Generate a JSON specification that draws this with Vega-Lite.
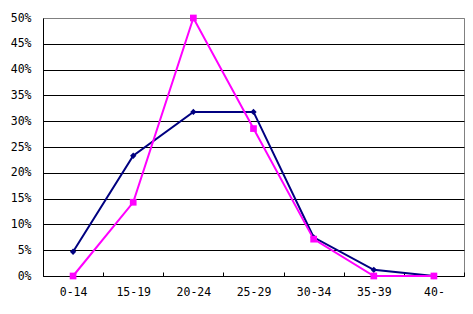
{
  "$schema": "https://vega.github.io/schema/vega-lite/v6.json",
  "width": 421,
  "height": 258,
  "autosize": {"type": "none"},
  "padding": {"left": 43, "top": 18, "right": 9, "bottom": 38},
  "background": "white",
  "config": {
    "view": {"stroke": "#808080", "strokeWidth": 1},
    "font": "DejaVu Sans Mono"
  },
  "data": {
    "values": [
      {"age": "0-14", "series": "A", "value": 0.047},
      {"age": "15-19", "series": "A", "value": 0.233},
      {"age": "20-24", "series": "A", "value": 0.318},
      {"age": "25-29", "series": "A", "value": 0.318},
      {"age": "30-34", "series": "A", "value": 0.075},
      {"age": "35-39", "series": "A", "value": 0.012},
      {"age": "40-", "series": "A", "value": 0.0},
      {"age": "0-14", "series": "B", "value": 0.0},
      {"age": "15-19", "series": "B", "value": 0.1429},
      {"age": "20-24", "series": "B", "value": 0.5},
      {"age": "25-29", "series": "B", "value": 0.2857},
      {"age": "30-34", "series": "B", "value": 0.0714},
      {"age": "35-39", "series": "B", "value": 0.0},
      {"age": "40-", "series": "B", "value": 0.0}
    ]
  },
  "encoding": {
    "x": {
      "field": "age", "type": "ordinal",
      "sort": ["0-14", "15-19", "20-24", "25-29", "30-34", "35-39", "40-"],
      "scale": {"type": "band", "paddingInner": 0, "paddingOuter": 0},
      "axis": {
        "title": null, "labelAngle": 0, "tickBand": "extent",
        "tickSize": -4, "tickColor": "black", "domainColor": "black",
        "labelColor": "black", "labelFontSize": 11.5, "labelPadding": 14,
        "grid": false
      }
    },
    "y": {
      "field": "value", "type": "quantitative",
      "scale": {"domain": [0, 0.5], "nice": false},
      "axis": {
        "title": null, "format": ".0%", "values": [0, 0.05, 0.1, 0.15, 0.2, 0.25, 0.3, 0.35, 0.4, 0.45, 0.5],
        "ticks": false, "labelPadding": 12, "labelColor": "black", "labelFontSize": 11.5,
        "domainColor": "black", "grid": true,
        "gridColor": {"condition": {"test": "datum.value >= 0.5", "value": "#808080"}, "value": "black"},
        "gridOpacity": 1
      }
    },
    "color": {
      "field": "series", "type": "nominal",
      "scale": {"domain": ["A", "B"], "range": ["#000080", "#FF00FF"]},
      "legend": null
    }
  },
  "layer": [
    {"mark": {"type": "line", "strokeWidth": 2}},
    {
      "transform": [{"filter": "datum.series == 'A'"}],
      "mark": {"type": "point", "shape": "diamond", "filled": true, "size": 40, "opacity": 1}
    },
    {
      "transform": [{"filter": "datum.series == 'B'"}],
      "mark": {"type": "point", "shape": "square", "filled": true, "size": 45, "opacity": 1}
    }
  ]
}
